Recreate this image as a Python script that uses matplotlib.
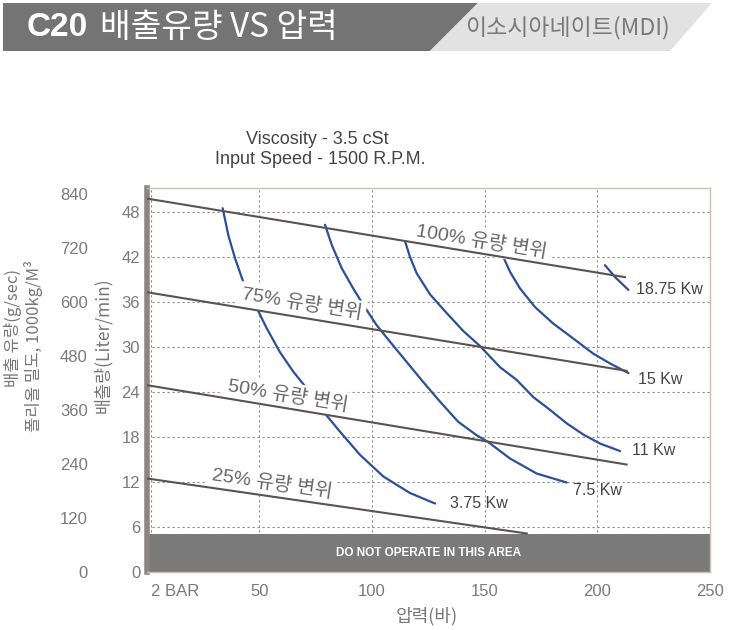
import matplotlib
matplotlib.use('Agg')
import matplotlib.pyplot as plt
import numpy as np
from matplotlib import font_manager
from matplotlib.patches import Polygon

plt.rcParams['font.family'] = ['Liberation Sans', 'Noto Sans CJK KR', 'DejaVu Sans']
KR = ['Noto Sans CJK KR', 'DejaVu Sans']
_names = {f.name for f in font_manager.fontManager.ttflist}
HAS_NARROW = 'Liberation Sans Narrow' in _names
NARROW = ['Liberation Sans Narrow', 'Liberation Sans'] if HAS_NARROW else ['Liberation Sans']

# ---------------- data ----------------
header_title = 'C20'
header_sub = '배출유량 VS 압력'
header_right = '이소시아네이트(MDI)'
chart_title = ['Viscosity - 3.5 cSt', 'Input Speed - 1500 R.P.M.']

x_ticks = [2, 50, 100, 150, 200, 250]
x_tick_labels = ['2 BAR', '50', '100', '150', '200', '250']
y_ticks = [0, 6, 12, 18, 24, 30, 36, 42, 48]
g_ticks = [0, 120, 240, 360, 480, 600, 720, 840]

flow_labels = ['100% 유량 변위', '75% 유량 변위', '50% 유량 변위', '25% 유량 변위']
flow_x = [[0, 212.3], [0, 213.0], [0, 213.0], [0, 168.7]]
flow_y = [[49.8, 39.3], [37.3, 26.8], [24.9, 14.3], [12.45, 5.1]]

power_labels = ['3.75 Kw', '7.5 Kw', '11 Kw', '15 Kw', '18.75 Kw']
p375_x = [33.8, 36.3, 39.3, 42.9, 48.9, 53.3, 59.2, 65.1, 71.8, 79.2, 85.8, 94.7, 105.1, 116.9, 128.0]
p375_y = [48.5, 44.9, 41.8, 38.7, 35.2, 32.5, 29.3, 26.7, 24.2, 21.1, 18.7, 15.6, 12.7, 10.5, 9.1]
p75_x = [79.2, 82.2, 86.6, 91.7, 96.2, 102.1, 108.0, 115.4, 122.8, 130.2, 138.3, 146.5, 151.6, 161.3, 173.1, 186.4]
p75_y = [46.3, 43.6, 40.5, 37.8, 35.6, 32.9, 30.7, 28.0, 25.3, 22.7, 20.0, 18.2, 17.3, 15.1, 13.1, 11.9]
p11_x = [114.7, 116.9, 119.9, 125.8, 133.2, 140.6, 148.0, 156.8, 164.2, 171.6, 179.0, 186.4, 193.8, 201.2, 210.1]
p11_y = [44.1, 42.0, 39.8, 37.0, 34.5, 32.1, 30.1, 27.3, 25.6, 23.3, 21.6, 19.8, 18.3, 17.1, 16.1]
p15_x = [158.3, 161.3, 165.7, 172.4, 180.5, 189.4, 198.2, 205.6, 213.8]
p15_y = [42.0, 40.0, 37.8, 35.3, 33.1, 31.1, 29.1, 27.8, 26.5]
p1875_x = [203.4, 207.9, 213.8]
p1875_y = [40.9, 39.3, 37.6]

no_operate_top = 5.0
no_operate_text = 'DO NOT OPERATE IN THIS AREA'

# ---------------- figure ----------------
W, H = 730, 630
fig = plt.figure(figsize=(W / 100, H / 100), dpi=100)

def fx(px):
    return px / W

def fy(py):
    return 1 - py / H

# header
fig.patches.append(Polygon([(fx(3), fy(3)), (fx(478), fy(3)), (fx(430), fy(51)), (fx(3), fy(51))],
                           closed=True, transform=fig.transFigure, facecolor='#747474', edgecolor='none'))
fig.patches.append(Polygon([(fx(478), fy(3)), (fx(712), fy(3)), (fx(670), fy(51)), (fx(430), fy(51))],
                           closed=True, transform=fig.transFigure, facecolor='#e2e2e2', edgecolor='none'))
fig.text(fx(27), fy(27), header_title, color='white', fontsize=24, fontweight='bold',
         family=['Liberation Sans'], ha='left', va='center')
fig.text(fx(100), fy(28), header_sub, color='white', fontsize=24, family=KR, ha='left', va='center')
fig.text(fx(465), fy(28), header_right, color='#7a7a7a', fontsize=16.5, family=KR, ha='left', va='center')

# chart title
fig.text(fx(317), fy(140), chart_title[0], color='#444444', fontsize=13, ha='center', va='center')
fig.text(fx(320), fy(159), chart_title[1], color='#444444', fontsize=13, ha='center', va='center')

ax = fig.add_axes([fx(146.5), fy(571.7), (710 - 146.5) / W, (571.7 - 188) / H])
ax.set_xlim(0, 250)
ax.set_ylim(0, 51.2)

# grid
ax.set_xticks(x_ticks)
ax.set_xticklabels(x_tick_labels)
ax.set_yticks(y_ticks)
ax.grid(True, color='#8c8c8c', ls=(0, (2, 2.5)), lw=0.8, zorder=0.5)
ax.set_axisbelow(True)

# no-operate zone
ax.axhspan(0, no_operate_top, color='#7a7a7a', zorder=1.5, lw=0)
ax.text(125, no_operate_top / 2, no_operate_text, color='white', fontsize=8.5, fontweight='bold',
        ha='center', va='center', zorder=6)

# power curves
blue = '#2c4f96'
curves = [(p375_x, p375_y), (p75_x, p75_y), (p11_x, p11_y), (p15_x, p15_y), (p1875_x, p1875_y)]
for cx, cy in curves:
    ax.plot(cx, cy, color=blue, lw=1.6, zorder=2, solid_capstyle='round', solid_joinstyle='round')

# flow lines
for lx, ly in zip(flow_x, flow_y):
    ax.plot(lx, ly, color='#5b5350', lw=1.5, zorder=4)

# flow labels
label_pos = [(148.4, 44.0), (68.8, 35.7), (62.6, 23.5), (55.5, 11.7)]
for lab, (tx, ty), lx, ly in zip(flow_labels, label_pos, flow_x, flow_y):
    ang = np.degrees(np.arctan2(ly[1] - ly[0], lx[1] - lx[0]))
    ax.text(tx, ty, lab, rotation=ang, transform_rotates_text=True, rotation_mode='anchor',
            ha='center', va='center', fontsize=14, color='#666666',
            family=['Liberation Sans', 'Noto Sans CJK KR'],
            bbox=dict(facecolor='white', edgecolor='none', pad=3), zorder=3)

# power labels
plab_pos = [(134.6, 9.1), (189.4, 10.8), (215.3, 16.2), (218.1, 25.7), (217.2, 37.7)]
for lab, (tx, ty) in zip(power_labels, plab_pos):
    ax.text(tx, ty, lab, fontsize=13 if HAS_NARROW else 11.5,
            family=NARROW, color='#444444', ha='left', va='center', zorder=5)

# spines
for s in ['top', 'right', 'bottom']:
    ax.spines[s].set_color('#cbbfb6')
    ax.spines[s].set_linewidth(1.0)
ax.spines['left'].set_color('#8c8582')
ax.spines['left'].set_linewidth(4)

ax.tick_params(axis='both', length=0, labelsize=12, labelcolor='#7a7a7a')
ax.tick_params(axis='x', pad=9)
ax.tick_params(axis='y', pad=4.5)
ax.get_xticklabels()[0].set_ha('left')

# secondary (g/sec) axis
sec = ax.secondary_yaxis(-0.0967, functions=(lambda L: L * 1000 / 60, lambda g: g * 60 / 1000))
sec.set_yticks(g_ticks)
sec.tick_params(length=0, pad=3, labelsize=12, labelcolor='#7a7a7a')
sec.spines['left'].set_visible(False)

# axis labels
fig.text(fx(427), fy(616), '압력(바)', family=KR, fontsize=13, color='#777777', ha='center', va='center')
fig.text(fx(103), fy(345), '배출량(Liter/min)', family=KR, fontsize=12.5, color='#777777',
         rotation=90, ha='center', va='center')
fig.text(fx(13), fy(328), '배출 유량(g/sec)', family=KR, fontsize=12, color='#777777',
         rotation=90, ha='center', va='center')
fig.text(fx(34), fy(346), '폴리올 밀도, 1000kg/M³', family=KR, fontsize=12, color='#777777',
         rotation=90, ha='center', va='center')

fig.savefig('out.png', dpi=100)
